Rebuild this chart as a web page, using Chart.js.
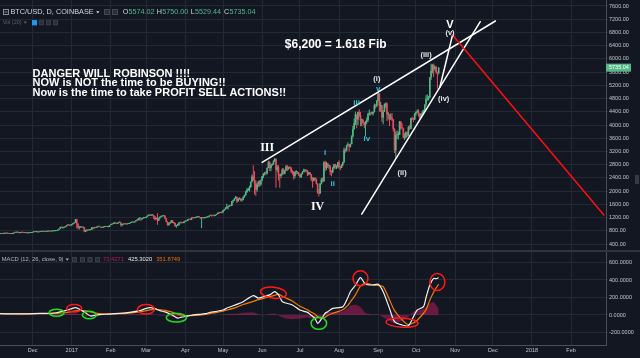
<!DOCTYPE html>
<html>
<head>
<meta charset="utf-8">
<script src="https://cdn.jsdelivr.net/npm/chart.js@4.4.1/dist/chart.umd.min.js"></script>
<style>
    html, body { margin: 0; padding: 0; background: #131722; width: 640px; height: 358px; overflow: hidden; }
    #wrap { position: relative; width: 640px; height: 358px; }
    #priceChart { position: absolute; left: 0; top: 0; }
    #macdChart { position: absolute; left: 0; top: 252px; }
    .sep { position: absolute; left: 0; top: 250px; width: 640px; height: 2px; background: #2f3340; }
</style>
</head>
<body>
<div id="wrap">
    <canvas id="priceChart" width="640" height="250"></canvas>
    <div class="sep"></div>
    <canvas id="macdChart" width="640" height="106"></canvas>
</div>
<script>
// daily BTC/USD candles, Coinbase, from 2016-11-04 to 2017-10-19 (open = previous close)
const startDate = '2016-11-04';
const firstOpen = 688;
const closes = [
    703,703,712,706,711,722,715,716,705,702,706,712,744,740,751,751,731,739,751,741,735,736,728,729,733,733,742,
    752,772,764,768,758,763,768,770,772,774,768,778,778,778,776,784,790,790,792,800,834,861,917,890,891,907,933,975,973,961,964,
    998,1021,1043,1154,1013,902,908,911,902,907,785,812,826,818,822,831,907,873,896,891,921,924,921,892,895,916,918,920,914,920,970,
    989,1011,1029,1045,1016,1024,1051,1052,978,996,1008,999,996,1008,1010,1037,1053,1056,1053,1086,1120,1122,1172,1176,1150,1188,1190,1190,
    1222,1255,1286,1265,1273,1277,1230,1150,1190,1105,1180,1225,1238,1245,1255,1172,1070,970,1020,1045,1115,1040,1035,935,965,965,1045,1045,1040,1036,1080,
    1085,1095,1145,1140,1130,1195,1190,1185,1208,1210,1225,1215,1180,1187,1185,1187,1203,1212,1225,1255,1260,1255,1252,1255,1280,1310,1345,1340,1355,1350,
    1420,1450,1495,1510,1530,1565,1555,1690,1720,1770,1820,1695,1770,1780,1720,1735,1820,1880,1970,2040,2050,2120,2280,2440,2330,2230,2050,2200,2280,2200,2330,
    2450,2520,2550,2530,2700,2880,2700,2800,2810,2900,2980,2650,2720,2480,2460,2520,2660,2530,2620,2750,2680,2720,2710,2590,2580,2460,2580,2580,2550,2480,
    2430,2520,2580,2620,2640,2620,2510,2570,2510,2360,2320,2400,2370,2230,1960,1930,2230,2350,2300,2870,2700,2850,2760,2760,2580,2570,2690,2810,2730,2760,2870,
    2730,2700,2800,2880,3250,3230,3390,3420,3340,3420,3650,3880,4060,4320,4170,4390,4300,4140,4150,4060,4000,4100,4150,4330,4370,4350,4350,4390,4590,4580,4740,
    4950,4580,4600,4230,4400,4620,4650,4320,4330,4230,4230,4170,3880,3240,3690,3700,3700,4100,3920,3900,3620,3620,3790,3680,3930,3890,4210,4190,4170,4340,
    4400,4410,4320,4220,4330,4380,4440,4620,4780,4780,4830,5450,5640,5820,5700,5760,5600,5574.02,5735.04
];
const highs = [
    706,708,715,714,716,740,723,719,717,706,708,716,748,752,755,756,752,740,754,752,742,741,737,735,736,738,744,
    755,775,776,769,768,764,770,774,773,775,774,780,782,781,778,785,791,792,794,802,835,872,922,922,898,908,935,977,976,972,966,
    1000,1034,1045,1160,1160,1030,935,920,912,912,910,830,832,832,824,836,910,910,903,900,933,938,930,922,902,920,922,922,921,922,972,
    995,1015,1032,1050,1046,1030,1056,1065,1058,1002,1012,1010,1005,1012,1012,1042,1057,1072,1058,1090,1127,1130,1178,1210,1180,1192,1196,1210,
    1225,1262,1290,1290,1276,1282,1280,1240,1198,1330,1200,1235,1245,1250,1260,1260,1180,1090,1065,1060,1125,1120,1065,1045,975,1010,1050,1060,1055,1050,1085,
    1095,1105,1148,1152,1145,1198,1200,1195,1212,1215,1228,1228,1220,1192,1192,1192,1207,1218,1232,1262,1265,1270,1258,1260,1285,1315,1350,1355,1360,1360,
    1430,1460,1510,1620,1545,1580,1590,1700,1740,1790,1855,1840,1790,1805,1790,1760,1840,1900,2010,2090,2100,2160,2290,2500,2780,2600,2330,2250,2310,2330,2340,
    2460,2550,2580,2600,2720,2920,2900,2830,2830,2930,3000,2990,2780,2780,2520,2540,2690,2690,2640,2780,2790,2740,2760,2730,2650,2600,2600,2630,2600,2580,
    2520,2540,2610,2680,2660,2650,2640,2580,2580,2520,2420,2420,2430,2380,2240,2060,2240,2400,2420,2900,2920,2890,2860,2800,2780,2630,2740,2830,2830,2780,2880,
    2930,2760,2810,2890,3320,3290,3400,3480,3430,3440,3690,3970,4200,4400,4320,4400,4480,4390,4190,4190,4080,4130,4230,4370,4470,4380,4410,4400,4650,4630,4760,
    4980,4960,4700,4600,4450,4650,4680,4680,4390,4330,4350,4360,4180,3900,3800,3830,3800,4120,4120,4050,3920,3750,3800,3800,3970,4010,4210,4250,4220,4360,
    4410,4470,4480,4360,4360,4440,4460,4620,4900,4930,4880,5450,5850,5840,5860,5800,5780,5620,5750
];
const lows = [
    686,695,700,700,702,705,710,712,703,695,700,702,711,735,736,745,725,727,735,736,731,733,726,725,727,730,730,
    740,752,760,758,750,753,760,765,767,771,764,766,773,773,773,775,783,787,788,790,798,831,858,882,865,887,905,932,960,946,952,
    960,993,1018,1038,880,850,840,892,890,889,755,760,780,805,810,818,828,860,868,882,890,905,915,888,885,893,910,912,907,905,918,
    965,985,1005,1012,1008,1012,1022,1040,930,940,985,995,990,990,1002,1008,1032,1048,1044,1050,1084,1106,1120,1110,1100,1140,1172,1178,
    1185,1215,1248,1248,1245,1260,1160,1120,1145,980,1095,1175,1210,1232,1240,1155,1058,950,960,1010,1040,1030,1015,930,890,945,962,1020,1020,1025,1030,
    1070,1078,1093,1128,1122,1130,1175,1175,1180,1200,1205,1205,1165,880,1172,1175,1182,1198,1205,1220,1245,1230,1240,1240,1250,1275,1305,1315,1335,1325,
    1345,1400,1440,1460,1440,1530,1540,1555,1640,1700,1765,1640,1680,1735,1690,1680,1720,1800,1860,1940,2000,1985,2110,2270,2320,1900,1850,1980,2130,2130,2160,
    2300,2400,2480,2480,2510,2690,2610,2600,2760,2800,2880,2100,2580,2320,2100,2400,2480,2500,2510,2610,2610,2650,2680,2540,2500,2350,2390,2500,2520,2460,
    2400,2400,2500,2580,2560,2580,2460,2480,2490,2300,2100,2290,2320,2200,1920,1840,1920,2200,2260,2280,2600,2640,2700,2680,2480,2450,2540,2660,2680,2670,2700,
    2670,2630,2690,2750,2850,3160,3200,3360,3200,3320,3420,3620,3860,4000,3900,4000,4250,3960,3960,4040,3900,3650,4040,4090,4290,4290,4320,4290,4380,4500,4540,
    4720,4400,4400,4090,4020,4400,4520,4120,4170,3970,4150,4120,3800,3150,3000,3580,3560,3700,3860,3870,3600,3550,3600,3640,3670,3850,3880,4150,4080,4150,
    4280,4360,4260,4180,4200,4310,4320,4420,4560,4730,4740,4830,5360,5560,5450,5640,5550,5100,5529.44
];

// MACD (12, 26, close, 9)
const macdDates = [
    '2016-11-05','2016-11-21','2016-12-07','2016-12-15','2016-12-20','2016-12-27','2016-12-31','2017-01-04','2017-01-08','2017-01-12',
    '2017-01-16','2017-01-19','2017-01-23','2017-01-31','2017-02-08','2017-02-16','2017-02-24','2017-02-28','2017-03-04','2017-03-08',
    '2017-03-12','2017-03-16','2017-03-21','2017-03-26','2017-03-29','2017-04-03','2017-04-09','2017-04-13','2017-04-17','2017-04-21',
    '2017-04-25','2017-05-01','2017-05-05','2017-05-12','2017-05-17','2017-05-25','2017-05-29','2017-06-02','2017-06-07','2017-06-11',
    '2017-06-14','2017-06-17','2017-06-19','2017-06-25','2017-07-01','2017-07-07','2017-07-09','2017-07-13','2017-07-15','2017-07-18',
    '2017-07-21','2017-07-23','2017-07-27','2017-08-04','2017-08-08','2017-08-10','2017-08-14','2017-08-18','2017-08-22','2017-08-28',
    '2017-09-01','2017-09-05','2017-09-10','2017-09-14','2017-09-20','2017-09-25','2017-09-29','2017-10-02','2017-10-07','2017-10-09',
    '2017-10-12','2017-10-15','2017-10-17','2017-10-19'
];
const macdLine = [
    15,12,18,20,26,50,68,84,60,25, -12,-5,5,10,18,30,50,70,84,72, 50,35,5,-35,-25,-12,5,8,15,31,
    40,57,85,122,152,221,194,209,230,266, 229,152,140,115,57,30,8,-40,-95,-46, 20,38,76,95,200,266,340,427,351,343,
    351,266,76,-76,-114,-122,-20,57,95,200, 343,419,415,425.302
];
const signalLine = [
    14,13,15,16,18,26,36,48,52,48, 35,25,17,12,14,22,35,46,58,64, 60,52,35,12,0,-8,-5,0,6,18,
    28,45,60,90,120,155,175,190,210,225, 238,215,200,160,100,60,40,10,-20,-38, -25,-5,20,60,110,150,230,330,362,345,
    338,325,175,50,-55,-110,-90,-60,20,60, 170,260,310,351.8749
];
const histogram = [
    2,-2,3,3,7,15,20,18,5,-12, -12,-8,-3,0,4,6,10,12,10,4, -6,-10,-16,-18,-10,-4,3,3,2,4,
    -3,5,10,15,25,32,8,-5,10,18, -5,-30,-40,-50,-40,-30,-35,-45,-50,-20, 25,30,35,40,80,105,120,90,20,5,
    12,-30,-70,-100,-65,-20,40,50,70,90, 130,150,110,73.4271
];

// axis ticks
const priceTicks = [400,800,1200,1600,2000,2400,2800,3200,3600,4000,4400,4800,5200,5600,6000,6400,6800,7200,7600];
const macdTicks = [-200, 0, 200, 400, 600];
const monthTicks = ['2016-12-01','2017-01-01','2017-02-01','2017-03-01','2017-04-01','2017-05-01','2017-06-01','2017-07-01',
    '2017-08-01','2017-09-01','2017-10-01','2017-11-01','2017-12-01','2018-01-01','2018-02-01'];
const monthLabels = ['Dec','2017','Feb','Mar','Apr','May','Jun','Jul','Aug','Sep','Oct','Nov','Dec','2018','Feb'];

// drawings on the price pane
const waveLines = [
    { from: ['2017-06-01', 2870], to: ['2017-12-03', 7146], color: '#ffffff' },
    { from: ['2017-08-19', 1307], to: ['2017-11-21', 7125], color: '#ffffff' },
    { from: ['2017-10-20', 5149], to: ['2017-10-30', 6722], color: '#ffffff' },
    { from: ['2017-10-30', 6722], to: ['2018-02-27', 1277], color: '#ff1010' }
];
const SANS = '"Liberation Sans", Arial, sans-serif';
const notes = [
    { date: '2016-12-01', price: 5540, align: 'left', lead: 9.35, font: 'bold 11px ' + SANS, color: '#ffffff',
      text: 'DANGER WILL ROBINSON !!!!\nNOW is NOT the time to be BUYING!!\nNow is the time to take PROFIT SELL ACTIONS!!' },
    { date: '2017-06-19', price: 6420, align: 'left', font: 'bold 12px ' + SANS, color: '#ffffff', text: '$6,200 = 1.618 Fib' },
    { date: '2017-06-05', price: 3295, font: 'bold 12px "Liberation Serif", serif', color: '#ffffff', text: 'III' },
    { date: '2017-07-15', price: 1519, font: 'bold 12px "Liberation Serif", serif', color: '#ffffff', text: 'IV' },
    { date: '2017-10-28', price: 7040, font: 'bold 11px ' + SANS, color: '#ffffff', text: 'V' },
    { date: '2017-10-28', price: 6798, font: 'bold 7.5px ' + SANS, color: '#e8e8e8', text: '(v)' },
    { date: '2017-08-31', price: 5382, font: 'bold 7.5px ' + SANS, color: '#e8e8e8', text: '(i)' },
    { date: '2017-09-20', price: 2557, font: 'bold 7.5px ' + SANS, color: '#e8e8e8', text: '(ii)' },
    { date: '2017-10-09', price: 6117, font: 'bold 7.5px ' + SANS, color: '#e8e8e8', text: '(iii)' },
    { date: '2017-10-23', price: 4777, font: 'bold 7.5px ' + SANS, color: '#e8e8e8', text: '(iv)' },
    { date: '2017-07-21', price: 3162, font: 'bold 8px ' + SANS, color: '#36c2dc', text: 'i' },
    { date: '2017-07-27', price: 2215, font: 'bold 8px ' + SANS, color: '#36c2dc', text: 'ii' },
    { date: '2017-08-15', price: 4674, font: 'bold 8px ' + SANS, color: '#36c2dc', text: 'iii' },
    { date: '2017-08-23', price: 3576, font: 'bold 8px ' + SANS, color: '#36c2dc', text: 'iv' },
    { date: '2017-09-01', price: 5089, font: 'bold 8px ' + SANS, color: '#36c2dc', text: 'v' }
];
// circles drawn on the MACD pane
const RED = '#ff1a1a', GREEN = '#1fe01f';
const macdMarks = [
    { date: '2016-12-20', value: 26, rx: 7.5, ry: 3.5, color: GREEN },
    { date: '2017-01-03', value: 77, rx: 7.5, ry: 3.8, color: RED },
    { date: '2017-01-15', value: 0, rx: 7, ry: 3.7, color: GREEN },
    { date: '2017-03-01', value: 65, rx: 8.5, ry: 4.7, color: RED },
    { date: '2017-03-25', value: -31, rx: 10, ry: 4.3, color: GREEN },
    { date: '2017-06-10', value: 255, rx: 13, ry: 5.5, rot: 0.12, color: RED },
    { date: '2017-07-16', value: -95, rx: 7.8, ry: 6, color: GREEN },
    { date: '2017-08-18', value: 419, rx: 7.5, ry: 7.5, color: RED },
    { date: '2017-09-20', value: -88, rx: 16, ry: 4.6, rot: 0.05, color: RED },
    { date: '2017-10-18', value: 377, rx: 7.5, ry: 8.5, color: RED }
];

const UP = '#53b987', DOWN = '#eb4d5c';
const GRID = '#242835', BORDER = '#4a4e5b', AXIS_TEXT = '#c3c6ce';
const EPOCH = Date.UTC(2016, 11, 1);
const dayOf = s => { const p = s.split('-').map(Number); return Math.round((Date.UTC(p[0], p[1] - 1, p[2]) - EPOCH) / 86400000); };
// visible time window (days from 2016-12-01)
const X_MIN = -25.85, X_MAX = 454.7;

document.addEventListener('DOMContentLoaded', () => {
    const $ = id => document.getElementById(id);

    const first = dayOf(startDate);
    const candles = closes.map((c, i) => ({ x: first + i, o: i ? closes[i - 1] : firstOpen, h: highs[i], l: lows[i], c }));
    const tint = candles.map(k => k.c >= k.o ? UP : DOWN);

    const monthAxis = axis => { axis.ticks = monthTicks.map(s => ({ value: dayOf(s) })); };
    const noPad = axis => { axis.paddingTop = 0; axis.paddingBottom = 0; axis.paddingLeft = 0; axis.paddingRight = 0; };

    const smallText = (ctx, txt, x, y, color, size) => {
        ctx.font = size + 'px ' + SANS;
        ctx.fillStyle = color;
        ctx.fillText(txt, x, y);
        return x + ctx.measureText(txt).width;
    };
    const caret = (ctx, x, y, color) => {
        ctx.fillStyle = color;
        ctx.beginPath(); ctx.moveTo(x, y - 1); ctx.lineTo(x + 3.4, y - 1); ctx.lineTo(x + 1.7, y + 1.2); ctx.closePath(); ctx.fill();
    };
    const iconBox = (ctx, x, y, s, fill, stroke) => {
        ctx.fillStyle = fill; ctx.fillRect(x, y, s, s);
        ctx.strokeStyle = stroke; ctx.lineWidth = 1; ctx.strokeRect(x + 0.5, y + 0.5, s - 1, s - 1);
    };

    const priceNotes = {
        id: 'priceNotes',
        afterDatasetsDraw(chart) {
            const { ctx, scales: { x, y } } = chart;
            const px = d => x.getPixelForValue(dayOf(d));
            ctx.save();
            ctx.lineCap = 'round';
            ctx.lineWidth = 1.5;
            waveLines.forEach(l => {
                ctx.strokeStyle = l.color;
                ctx.beginPath();
                ctx.moveTo(px(l.from[0]), y.getPixelForValue(l.from[1]));
                ctx.lineTo(px(l.to[0]), y.getPixelForValue(l.to[1]));
                ctx.stroke();
            });
            ctx.textBaseline = 'middle';
            notes.forEach(n => {
                ctx.font = n.font;
                ctx.fillStyle = n.color;
                ctx.textAlign = n.align || 'center';
                const x0 = px(n.date), y0 = y.getPixelForValue(n.price);
                n.text.split('\n').forEach((t, i) => ctx.fillText(t, x0, y0 + i * (n.lead || 0)));
            });
            ctx.restore();
        },
        afterDraw(chart) {
            const { ctx, scales: { y } } = chart;
            ctx.save();
            ctx.textBaseline = 'middle';
            ctx.textAlign = 'left';
            // last price tag
            const last = candles[candles.length - 1];
            const ly = y.getPixelForValue(last.c);
            ctx.fillStyle = UP;
            ctx.fillRect(y.left, ly - 4, 25, 8);
            smallText(ctx, last.c.toFixed(2), y.left + 3, ly + 0.3, '#ffffff', 5.5);
            // scroll handle on the right strip
            ctx.fillStyle = '#363a46';
            ctx.fillRect(635, 175, 4, 9);
            // symbol header
            ctx.strokeStyle = '#8a8d96';
            ctx.lineWidth = 1;
            ctx.strokeRect(3.5, 9.5, 5, 5);
            ctx.beginPath(); ctx.moveTo(4.5, 12); ctx.lineTo(7.5, 12); ctx.stroke();
            let cx = smallText(ctx, 'BTC/USD, D, COINBASE', 10.5, 12.3, '#d1d4dc', 7.3);
            caret(ctx, cx + 2.5, 12.3, '#d1d4dc');
            iconBox(ctx, 104, 9, 6, '#2a2e39', '#434753');
            iconBox(ctx, 112, 9, 6, '#2a2e39', '#434753');
            const ohlc = [['O', last.o, 122.7], ['H', last.h, 156.7], ['L', last.l, 190.7], ['C', last.c, 224]];
            ohlc.forEach(([k, v, at]) => {
                const nx = smallText(ctx, k, at, 12.3, '#d1d4dc', 7.2);
                smallText(ctx, v.toFixed(2), nx + 0.3, 12.3, UP, 7.2);
            });
            cx = smallText(ctx, 'Vol (20)', 2.7, 22.6, '#5d606b', 5.5);
            caret(ctx, cx + 2, 22.6, '#5d606b');
            iconBox(ctx, 32, 20.2, 5, '#2196f3', '#2196f3');
            iconBox(ctx, 39, 20.2, 5, '#2a2e39', '#3a3e4a');
            iconBox(ctx, 46, 20.2, 5, '#2a2e39', '#3a3e4a');
            iconBox(ctx, 53, 20.2, 5, '#2a2e39', '#3a3e4a');
            ctx.restore();
        }
    };

    new Chart($('priceChart'), {
        type: 'bar',
        data: {
            datasets: [
                { data: candles.map(k => ({ x: k.x, y: [Math.min(k.o, k.c), Math.max(k.o, k.c)] })), backgroundColor: tint, barThickness: 1.6, minBarLength: 1 },
                { data: candles.map(k => ({ x: k.x, y: [k.l, k.h] })), backgroundColor: tint, barThickness: 1 }
            ]
        },
        options: {
            responsive: false, animation: false, devicePixelRatio: 1,
            layout: { padding: 0 },
            datasets: { bar: { grouped: false, borderWidth: 0, inflateAmount: 0 } },
            plugins: { legend: { display: false }, tooltip: { enabled: false } },
            scales: {
                x: {
                    type: 'linear', min: X_MIN, max: X_MAX, offset: false,
                    afterBuildTicks: monthAxis,
                    afterFit: a => { a.height = 0; noPad(a); },
                    ticks: { display: false },
                    grid: { color: GRID, drawTicks: false, offset: false },
                    border: { display: false }
                },
                y: {
                    position: 'right', min: 218.5, max: 7781.5,
                    afterBuildTicks: a => { a.ticks = priceTicks.map(v => ({ value: v })); },
                    afterFit: a => { a.width = 34; noPad(a); },
                    ticks: { callback: v => v.toFixed(2), font: { size: 5.5, family: SANS }, color: AXIS_TEXT, padding: 1, autoSkip: false },
                    grid: { color: GRID, tickLength: 2 },
                    border: { color: BORDER }
                }
            }
        },
        plugins: [priceNotes]
    });

    const macdPoints = vals => macdDates.map((d, i) => ({ x: dayOf(d), y: vals[i] }));

    const macdNotes = {
        id: 'macdNotes',
        afterDatasetsDraw(chart) {
            const { ctx, scales: { x, y } } = chart;
            ctx.save();
            ctx.lineWidth = 1.5;
            macdMarks.forEach(m => {
                ctx.strokeStyle = m.color;
                ctx.beginPath();
                ctx.ellipse(x.getPixelForValue(dayOf(m.date)), y.getPixelForValue(m.value), m.rx, m.ry, m.rot || 0, 0, Math.PI * 2);
                ctx.stroke();
            });
            ctx.restore();
        },
        afterDraw(chart) {
            const { ctx } = chart;
            ctx.save();
            ctx.textBaseline = 'middle';
            ctx.textAlign = 'left';
            const cx = smallText(ctx, 'MACD (12, 26, close, 9)', 1.7, 7.5, '#b2b5be', 5.8);
            caret(ctx, cx + 2, 7.5, '#b2b5be');
            [72, 80, 87.5, 95].forEach(ix => iconBox(ctx, ix, 5, 5, '#2a2e39', '#3a3e4a'));
            let vx = smallText(ctx, histogram[histogram.length - 1].toFixed(4), 103, 7.5, '#c2185b', 5.8);
            vx = smallText(ctx, macdLine[macdLine.length - 1].toFixed(4), vx + 4, 7.5, '#e8e8e8', 5.8);
            smallText(ctx, signalLine[signalLine.length - 1].toFixed(4), vx + 4, 7.5, '#ef6c00', 5.8);
            ctx.restore();
        }
    };

    new Chart($('macdChart'), {
        type: 'line',
        data: {
            datasets: [
                { data: macdPoints(macdLine), borderColor: '#f2f2f2', borderWidth: 1.2, pointRadius: 0, tension: 0.25, order: 0 },
                { data: macdPoints(signalLine), borderColor: '#f57c00', borderWidth: 1.2, pointRadius: 0, tension: 0.25, order: 1 },
                { data: macdPoints(histogram), borderWidth: 0, backgroundColor: 'rgba(190, 30, 100, 0.5)', fill: 'origin', pointRadius: 0, tension: 0, order: 2 }
            ]
        },
        options: {
            responsive: false, animation: false, devicePixelRatio: 1,
            layout: { padding: 0 },
            plugins: { legend: { display: false }, tooltip: { enabled: false } },
            scales: {
                x: {
                    type: 'linear', min: X_MIN, max: X_MAX,
                    afterBuildTicks: monthAxis,
                    afterFit: a => { a.height = 13; noPad(a); },
                    ticks: { callback: (v, i) => monthLabels[i], font: { size: 5.5, family: SANS }, color: AXIS_TEXT, padding: 2, autoSkip: false, maxRotation: 0 },
                    grid: { color: GRID, drawTicks: false },
                    border: { color: BORDER }
                },
                y: {
                    position: 'right', min: -342.9, max: 720,
                    afterBuildTicks: a => { a.ticks = macdTicks.map(v => ({ value: v })); },
                    afterFit: a => { a.width = 34; noPad(a); },
                    ticks: { callback: v => v.toFixed(4), font: { size: 5.5, family: SANS }, color: AXIS_TEXT, padding: 1, autoSkip: false },
                    grid: { color: GRID, tickLength: 2 },
                    border: { color: BORDER }
                }
            }
        },
        plugins: [macdNotes]
    });
});
</script>
</body>
</html>
